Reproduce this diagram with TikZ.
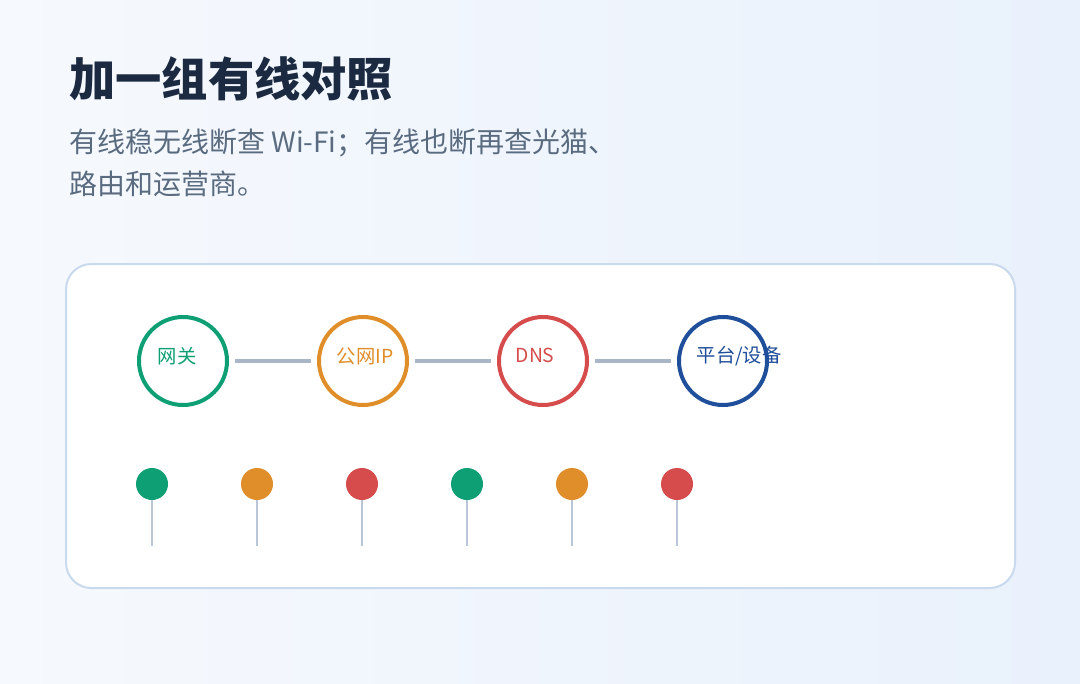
\documentclass[tikz,border=0pt]{standalone}
\usepackage{fontspec}
\setmainfont{Noto Sans CJK SC}
\definecolor{ink}{HTML}{1B2A41}
\definecolor{sub}{HTML}{5A6B80}
\definecolor{cgreen}{HTML}{0E9F74}
\definecolor{corange}{HTML}{E08E2A}
\definecolor{cred}{HTML}{D64B4B}
\definecolor{cblue}{HTML}{1F4E9A}
\definecolor{link}{HTML}{A8B6C8}
\definecolor{stem}{HTML}{B8C6D8}
\definecolor{frame}{HTML}{C9D9EE}
\definecolor{bgl}{HTML}{F6F9FD}
\definecolor{bgr}{HTML}{E9F1FC}
\begin{document}
\begin{tikzpicture}[
        x=0.75pt, y=-0.75pt, % pixel grid
        hop/.style={circle, minimum size=88*0.75pt, line width=3pt, draw=#1},
        tag/.style={anchor=west, text=#1, font=\fontsize{14.5}{16}\selectfont},
        pin/.style={circle, minimum size=32*0.75pt, inner sep=0pt, fill=#1},
        wire/.style={draw=link, line width=3pt},
        lead/.style={anchor=base west, text=sub, font=\fontsize{21}{24}\selectfont, inner sep=0pt}
      ]

      % background and card
      \shade[left color=bgl, right color=bgr] (0,0) rectangle (1080,684);
      \draw[frame, fill=white, line width=1.5pt, rounded corners=19pt] (66,264) rectangle (1015,588);

      % heading
      \node[anchor=base west, text=ink, font=\fontsize{34.7}{40}\selectfont\bfseries, inner sep=0pt] (title) at (69,97) {加一组有线对照};
      \node[lead] (lead1) at (69,153) {有线稳无线断查 Wi-Fi；有线也断再查光猫、};
      \node[lead] (lead2) at (69,195) {路由和运营商。};

      % chain
      \node[hop=cgreen] (gw) at (183,361) {};
      \node[hop=corange] (ip) at (363,361) {};
      \node[hop=cred] (dns) at (543,361) {};
      \node[hop=cblue] (dev) at (723,361) {};
      \node[tag=cgreen] at (153,356) {网关};
      \node[tag=corange] at (332,356) {公网IP};
      \node[tag=cred] at (511,355) {DNS};
      \node[tag=cblue] at (692,356) {平台/设备};

      \draw[wire] ([xshift=6*0.75pt]gw.east) -- ([xshift=-6*0.75pt]ip.west);
      \draw[wire] ([xshift=6*0.75pt]ip.east) -- ([xshift=-6*0.75pt]dns.west);
      \draw[wire] ([xshift=6*0.75pt]dns.east) -- ([xshift=-6*0.75pt]dev.west);

      % pins
      \foreach \x/\c [count=\i] in {152/cgreen, 257/corange, 362/cred, 467/cgreen, 572/corange, 677/cred} {
        \coordinate (foot\i) at (\x,546);
        \draw[stem, line width=1.5pt] (\x,490) -- (foot\i);
        \node[pin=\c] (head\i) at (\x,484) {};
      }

    \end{tikzpicture}
\end{document}
